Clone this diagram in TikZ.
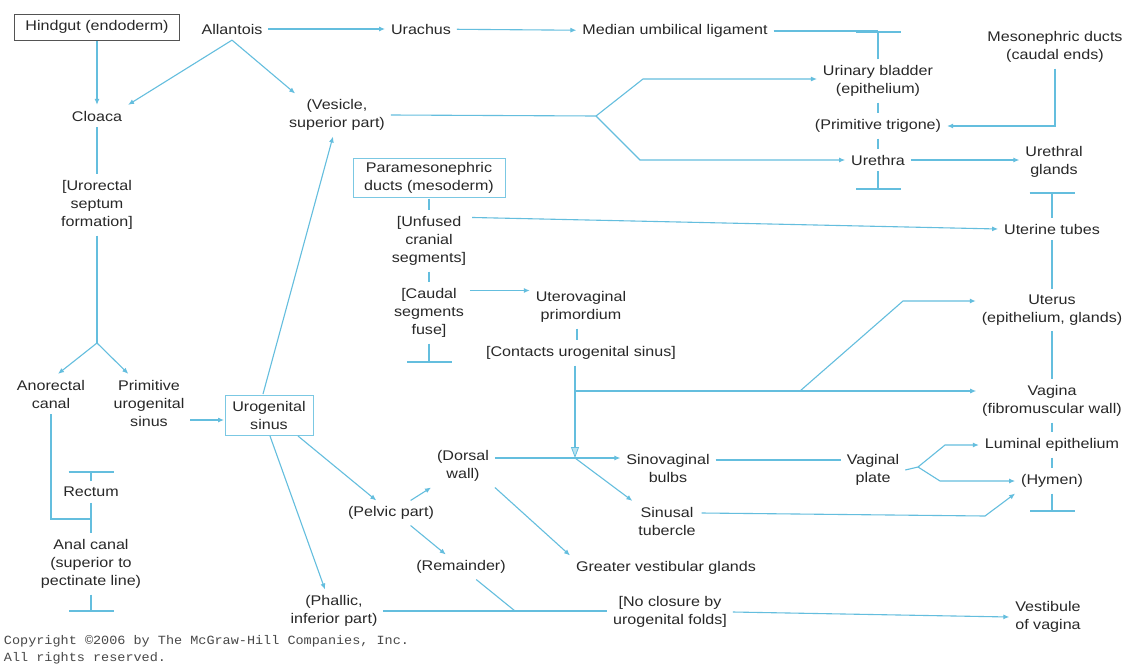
\documentclass[tikz,border=0pt]{standalone}
\usepackage{fontspec}
\setmainfont{Liberation Sans}[FakeStretch=1.15]
\newfontfamily\cpyfont{Liberation Mono}[FakeStretch=1.08]
\usetikzlibrary{arrows.meta,calc}
\definecolor{lb}{RGB}{100,190,222}
\definecolor{tx}{RGB}{40,40,40}
\begin{document}
\begin{tikzpicture}[x=1pt,y=-1pt,
  every node/.style={text=tx, font=\fontsize{14}{18}\selectfont, align=center, inner sep=2pt, outer sep=4pt},
  conn/.style={draw=lb, line width=1.1pt},
  arr/.style={conn, -{Latex[length=6pt,width=5pt]}},
  tbar/.style={conn, -{Bar[width=45pt,line width=1.8pt]}},
  bigarr/.style={conn, -{Triangle[length=11pt,width=8pt,fill=lb!45,line width=0.8pt]}},
  darkbox/.style={draw=tx!80, line width=0.9pt, inner sep=1pt, outer sep=1pt},
  bluebox/.style={draw=lb!85, line width=0.8pt, inner sep=1pt, outer sep=1pt}]
\useasboundingbox[fill=white] (0,0) rectangle (1132,664);

% ---------- nodes ----------
\node[darkbox, minimum width=165pt, minimum height=26pt] (hind) at (97,27) {Hindgut (endoderm)};
\node (allan) at (232,29) {Allantois};
\node (urach) at (421,29) {Urachus};
\node (lig) at (675,31) {Median umbilical ligament};
\node (meso) at (1055,47) {Mesonephric ducts\\(caudal ends)};
\node (blad) at (878,81) {Urinary bladder\\(epithelium)};
\node (trig) at (878,126) {(Primitive trigone)};
\node (ureth) at (878,160) {Urethra};
\node (uglands) at (1054,162) {Urethral\\glands};
\node (cloaca) at (97,116) {Cloaca};
\node (vesic) at (337,115) {(Vesicle,\\superior part)};
\node (uro) at (97,205) {[Urorectal\\septum\\formation]};
\node (anor) at (51,394) {Anorectal\\canal};
\node (pus) at (149,403) {Primitive\\urogenital\\sinus};
\node[bluebox, minimum width=88pt, minimum height=40pt] (ugs) at (269,415) {Urogenital\\sinus};
\node[bluebox, minimum width=152pt, minimum height=39pt] (para) at (429,178) {Paramesonephric\\ducts (mesoderm)};
\node (unf) at (429,241) {[Unfused\\cranial\\segments]};
\node (caud) at (429,313) {[Caudal\\segments\\fuse]};
\node (uvp) at (581,307) {Uterovaginal\\primordium};
\node (cont) at (581,353) {[Contacts urogenital sinus]};
\node (utub) at (1052,229) {Uterine tubes};
\node (uter) at (1052,310) {Uterus\\(epithelium, glands)};
\node (vag) at (1052,401) {Vagina\\(fibromuscular wall)};
\node (lum) at (1052,445) {Luminal epithelium};
\node (hym) at (1052,481) {(Hymen)};
\node (vplate) at (873,470) {Vaginal\\plate};
\node (sbulb) at (668,468) {Sinovaginal\\bulbs};
\node (stub) at (667,521) {Sinusal\\tubercle};
\node (dors) at (463,466) {(Dorsal\\wall)};
\node (gvg) at (666,568) {Greater vestibular glands};
\node (pelv) at (391,513) {(Pelvic part)};
\node (rem) at (461,567) {(Remainder)};
\node (phal) at (334,611) {(Phallic,\\inferior part)};
\node (noclo) at (670,612) {[No closure by\\urogenital folds]};
\node (vest) at (1048,617) {Vestibule\\of vagina};
\node (rect) at (91,492) {Rectum};
\node (anal) at (91,564) {Anal canal\\(superior to\\pectinate line)};
\node[anchor=west, font=\cpyfont\fontsize{12.5}{14}\selectfont, text=tx!85, inner sep=0pt, outer sep=0pt] (cp1) at (4,641) {Copyright ©2006 by The McGraw-Hill Companies, Inc.};
\node[anchor=west, font=\cpyfont\fontsize{12.5}{14}\selectfont, text=tx!85, inner sep=0pt, outer sep=0pt] (cp2) at (4,658) {All rights reserved.};

% ---------- coordinates ----------
\coordinate (tbLig) at (878,31);
\coordinate (tbUre) at (878,190);
\coordinate (tbUg) at (1052,192);
\coordinate (tbCau) at (429,363);
\coordinate (tbHym) at (1052,512);
\coordinate (tbRec) at (91,471);
\coordinate (tbAna) at (91,612);
\coordinate (fk) at (97,343);
\coordinate (vf) at (596,116);
\coordinate (vb) at (643,79);
\coordinate (vu) at (640,160);
\coordinate (jv) at (575,458);
\coordinate (jh) at (575,391);
\coordinate (jb) at (800,391);
\coordinate (ju) at (903,301);
\coordinate (vpf) at (918,467);
\coordinate (vpu) at (945,445);
\coordinate (vpd) at (940,481);
\coordinate (tc) at (985,516);
\coordinate (jn) at (515,611);
\coordinate (ra) at (91,519);

% ---------- top rows ----------
\draw[arr] (allan) -- (urach);
\draw[arr] (urach) -- (lig);
\draw[conn] (lig.east) -- (tbLig);
\draw[tbar] (blad) -- (tbLig);
\draw[conn] (blad) -- (trig);
\draw[conn] (trig) -- (ureth);
\draw[tbar] (ureth) -- (tbUre);
\draw[arr] (ureth.east) -- (ureth.east -| uglands.west);
\draw[arr] (meso.south) |- (trig.east);
\draw[tbar] (utub) -- (tbUg);

% ---------- hindgut / cloaca ----------
\draw[arr] (hind) -- (cloaca);
\draw[arr] (allan.south) -- (cloaca.north east);
\draw[arr] (allan.south) -- ([xshift=12pt]vesic.north west);
\draw[conn] (cloaca) -- (uro);
\draw[conn] (uro) -- (fk);
\draw[arr] (fk) -- ([xshift=7pt]anor.north);
\draw[arr] (fk) -- ($(pus.north)!0.5!(pus.north west)$);
\path (pus.east |- ugs.west) ++(0,5) coordinate (p1);
\draw[arr] (p1) -- (p1 -| ugs.west);
\draw[arr] ([xshift=-6pt]ugs.north) -- ([xshift=-4pt]vesic.south);
\draw[conn] (vesic.east) -- (vf);
\draw[arr] (vf) -- (vb) -- (vb -| blad.west);
\draw[arr] (vf) -- (vu) -- (vu -| ureth.west);

% ---------- rectum / anal canal ----------
\draw[tbar] (rect) -- (tbRec);
\draw[conn] (rect) -- (anal);
\draw[conn] (anor.south) |- (ra);
\draw[tbar] (anal) -- (tbAna);

% ---------- paramesonephric ----------
\draw[conn] (para) -- (unf);
\coordinate (u1) at ([yshift=-7pt]unf.north east);
\draw[arr] (u1) -- (utub.west);
\draw[conn] (unf) -- (caud);
\draw[tbar] (caud) -- (tbCau);
\coordinate (c1) at ([yshift=-8pt]caud.north east);
\draw[arr] (c1) -- (c1 -| uvp.west);
\draw[conn] ([xshift=-4pt]uvp.south) -- ([xshift=-4pt]cont.north);
\coordinate (c2) at (cont.south -| jv);
\draw[bigarr] (c2) -- (jv);
\draw[arr] (jh) -- (jh -| vag.west);
\draw[arr] (jb) -- (ju) -- (ju -| uter.west);
\draw[conn] (utub) -- (uter);
\draw[conn] (uter) -- (vag);
\draw[conn] (vag) -- (lum);
\draw[conn] (lum) -- (hym);
\draw[tbar] (hym) -- (tbHym);

% ---------- urogenital sinus derivatives ----------
\draw[arr] ([xshift=-16pt]ugs.south east) -- ($(pelv.north)!0.3!(pelv.north west)$);
\draw[arr] ([xshift=1pt]ugs.south) -- ([xshift=-9pt]phal.north);
\draw[arr] ($(pelv.north)!0.4!(pelv.north east)$) -- (dors.south west);
\draw[arr] ($(pelv.south)!0.4!(pelv.south east)$) -- ($(rem.north)!0.3!(rem.north west)$);
\draw[arr] (dors.south east) -- (gvg.north west);
\coordinate (d1) at (dors.east |- jv);
\draw[arr] (d1) -- (jv -| sbulb.west);
\draw[arr] (jv) -- (stub.north west);
\coordinate (s1) at ([yshift=8pt]sbulb.east);
\draw[conn] (s1) -- (s1 -| vplate.west);
\draw[conn] (vplate.east) -- (vpf);
\draw[arr] (vpf) -- (vpu) -- (vpu -| lum.west);
\draw[arr] (vpf) -- (vpd) -- (vpd -| hym.west);
\coordinate (t1) at ([yshift=8pt]stub.east);
\draw[arr] (t1) -- (tc) -- (hym.south west);
\draw[conn] ($(rem.south)!0.3!(rem.south east)$) -- (jn);
\draw[conn] (phal.east) -- (phal.east -| noclo.west);
\draw[arr] (noclo.east) -- (vest.west);
\end{tikzpicture}
\end{document}
